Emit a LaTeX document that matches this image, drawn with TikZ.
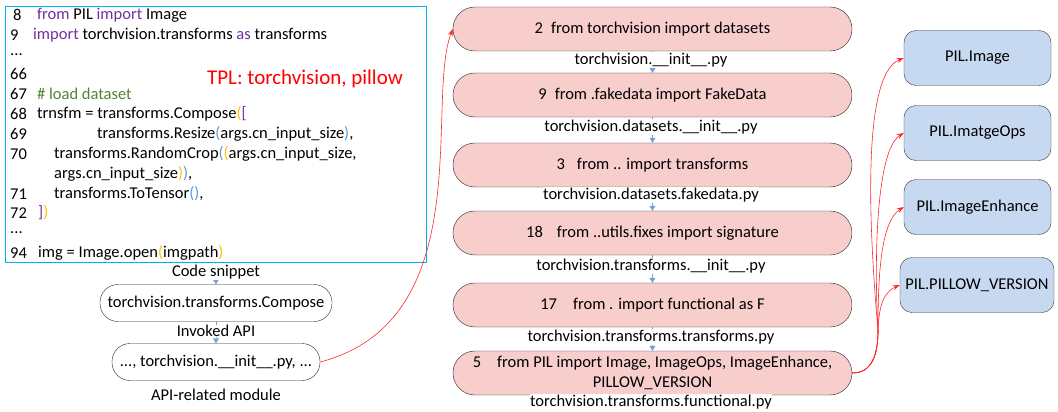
\documentclass[tikz,border=0pt]{standalone}
\usepackage{fontspec}
\setmainfont{Carlito}
\usepackage{tikz}
\usetikzlibrary{arrows.meta}

\definecolor{kwpurple}{RGB}{112,48,160}
\definecolor{cmtgreen}{RGB}{84,130,53}
\definecolor{brgold}{RGB}{255,192,0}
\definecolor{brblue}{RGB}{91,155,213}
\definecolor{codeblue}{RGB}{0,176,240}
\definecolor{modpink}{RGB}{248,206,204}
\definecolor{pilblue}{RGB}{198,217,241}
\definecolor{linkblue}{RGB}{68,114,196}

\newcommand{\kw}[1]{\textcolor{kwpurple}{#1}}
\newcommand{\brg}[1]{\textcolor{brgold}{#1}}
\newcommand{\brb}[1]{\textcolor{brblue}{#1}}
\newcommand{\fs}[2]{\fontsize{#1}{#2}\selectfont}

\begin{document}
\begin{tikzpicture}[x=1pt, y=-1pt, >=Stealth,
    codeline/.style={anchor=west, inner sep=0pt, font=\fs{16.5}{20}},
    apibox/.style={draw=black!85, fill=white, rounded corners=18pt, minimum height=37pt, font=\fs{16.5}{20}},
    modbox/.style={draw=black!85, fill=modpink, rounded corners=22pt, minimum width=399pt, minimum height=44pt, align=center, font=\fs{16.5}{20}},
    pilbox/.style={draw=black!80, fill=pilblue, rounded corners=12pt, minimum width=147pt, minimum height=55pt, font=\fs{16.5}{20}},
    caption/.style={fill=white, inner sep=0.5pt, font=\fs{16.5}{20}},
    bluelink/.style={linkblue!70, line width=0.4pt, -{Triangle[length=5pt, width=6pt]}},
    redlink/.style={red!85, line width=0.6pt, -{Stealth[length=7pt, width=5pt]}}]

    \useasboundingbox (0,0) rectangle (1058,412);

    % code snippet
    \node[draw=codeblue, line width=0.8pt, minimum width=421pt, minimum height=256pt, inner sep=0pt] (code) at (215.5,134) {};
    \foreach \y/\n/\x/\t in {15/\hspace{3pt}8/37/{\kw{from} PIL \kw{import} Image},
        35/9/33/{\kw{import} torchvision.transforms \kw{as} transforms},
        74/66/37/{},
        94/67/37/{\textcolor{cmtgreen}{\# load dataset}},
        114/68/37/{trnsfm = transforms.Compose\brg{(}\kw{[}},
        134/69/97/{transforms.Resize\brb{(}args.cn\_input\_size\brb{)},},
        154/70/54/{transforms.RandomCrop\brb{(}\brg{(}args.cn\_input\_size,},
        174/{}/54/{args.cn\_input\_size\brg{)}\brb{)},},
        194/71/54/{transforms.ToTensor\brb{()},},
        213/72/38/{\kw{]}\brg{)}},
        253/94/38/{img = Image.open\brg{(}imgpath\brg{)}}}
    {
        \node[codeline] at (10,\y) {\n};
        \node[codeline] at (\x,\y) {\t};
    }
    \node[codeline] (skip1) at (10,55) {...};
    \node[codeline] (skip2) at (10,233) {...};
    \node[text=red, font=\fs{21}{24}, inner sep=0pt] (tpl) at (305,79) {TPL: torchvision, pillow};

    % API
    \node[apibox, minimum width=232pt] (api) at (216,303) {torchvision.transforms.Compose};
    \node[apibox, minimum width=208pt] (mod) at (216,362) {..., torchvision.\_\_init\_\_.py, ...};
    \draw[bluelink] (code.south) -- (api.north);
    \draw[bluelink] (api.south) -- (mod.north);
    \node[caption] (capcode) at (216,272) {Code snippet};
    \node[caption] (capapi) at (216,331) {Invoked API};
    \node[caption] (capmod) at (216,395) {API-related module};

    % import chain
    \foreach \i/\y/\t in {1/29/{2\hspace{8pt}from torchvision import datasets},
        2/95/{9\hspace{8pt}from .fakedata import FakeData},
        3/165/{3\hspace{12pt}from .. import transforms},
        4/233/{18\hspace{14pt}from ..utils.fixes import signature},
        5/305/{17\hspace{16pt}from . import functional as F},
        6/373/{5\hspace{16pt}from PIL import Image, ImageOps, ImageEnhance,\\PILLOW\_VERSION}}
        \node[modbox] (imp\i) at (652.5,\y) {\t};

    \foreach \a/\b in {1/2, 2/3, 3/4, 4/5, 5/6}
        \draw[bluelink] (imp\a.south) -- (imp\b.north);

    \foreach \i/\y/\t in {1/60/{torchvision.\_\_init\_\_.py},
        2/127/{torchvision.datasets.\_\_init\_\_.py},
        3/195/{torchvision.datasets.fakedata.py},
        4/266/{torchvision.transforms.\_\_init\_\_.py},
        5/337/{torchvision.transforms.transforms.py},
        6/402/{torchvision.transforms.functional.py}}
        \node[caption] (file\i) at (651,\y) {\t};

    % PIL modules
    \node[pilbox] (pil1) at (977.5,58) {PIL.Image};
    \node[pilbox] (pil2) at (977.5,133) {PIL.ImatgeOps};
    \node[pilbox] (pil3) at (977.5,207) {PIL.ImageEnhance};
    \node[pilbox, minimum width=154pt] (pil4) at (977,285) {PIL.PILLOW\_VERSION};

    \draw[redlink] (mod.east) .. controls (480,320) and (425,100) .. (imp1.west);

    % tronco comum das setas
    \coordinate (fork) at (878,330);
    \draw[redlink] (imp6.east) .. controls (872,373) and (878,355) .. (fork) .. controls (870,240) and (860,75) .. (pil1.west);
    \draw[redlink] (imp6.east) .. controls (872,373) and (878,355) .. (fork) .. controls (874,260) and (876,150) .. (pil2.west);
    \draw[redlink] (imp6.east) .. controls (872,373) and (878,355) .. (fork) .. controls (878,280) and (880,222) .. (pil3.west);
    \draw[redlink] (imp6.east) .. controls (872,373) and (878,355) .. (fork) .. controls (879,305) and (884,292) .. (pil4.west);

\end{tikzpicture}
\end{document}
